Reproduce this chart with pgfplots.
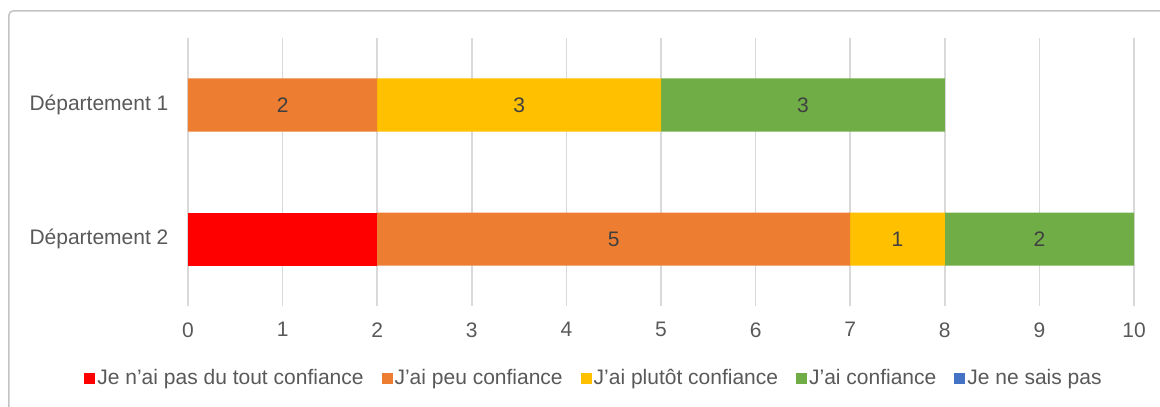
\documentclass[border=0pt]{standalone}
\usepackage{pgfplots}
\pgfplotsset{compat=1.18}
\usepackage{fontspec}
\setmainfont{Liberation Sans}

\definecolor{cRed}{HTML}{FF0000}
\definecolor{cOrange}{HTML}{ED7D31}
\definecolor{cYellow}{HTML}{FFC000}
\definecolor{cGreen}{HTML}{70AD47}
\definecolor{cBlue}{HTML}{4472C4}
\definecolor{txt}{HTML}{595959}
\definecolor{lbl}{HTML}{404040}
\definecolor{gridc}{HTML}{D9D9D9}

\begin{document}
\begin{tikzpicture}
\path[use as bounding box] (-188pt,-101pt) rectangle (972pt,306pt);
\draw[color=gridc!90!black, line width=1.5pt, rounded corners=4pt]
  (-179pt,-101pt) -- (-179pt,295pt) -- (972pt,295pt);
\begin{axis}[
    xbar stacked,
    scale only axis,
    width=946pt, height=268pt,
    at={(0,0)}, anchor=south west,
    xmin=0, xmax=10,
    ymin=-0.5, ymax=1.5,
    bar width=53pt,
    xtick={0,1,...,10},
    ytick={0,1},
    yticklabels={Département 2, Département 1},
    xmajorgrids,
    major grid style={color=gridc, line width=1.6pt},
    axis line style={draw=none},
    major tick length=0pt,
    font=\fontsize{21}{25}\selectfont,
    tick label style={color=txt},
    /pgf/number format/assume math mode=true,
    xticklabel style={yshift=-13pt},
    yticklabel style={xshift=-16pt},
    nodes near coords style={color=lbl, anchor=center, font=\fontsize{21}{25}\selectfont},
    legend columns=5,
    legend style={draw=none, at={(axis description cs:0.4292,-0.2687)}, anchor=center,
        font=\fontsize{21}{25}\selectfont, text=txt,
        /tikz/every even column/.append style={column sep=16pt}},
    legend image code/.code={\fill[#1] (-3pt,-5.5pt) rectangle (8pt,5.5pt);},
]
\addplot[fill=cRed, draw=none] coordinates {(0,1) (2,0)};
\addplot[fill=cOrange, draw=none, nodes near coords] coordinates {(2,1) (5,0)};
\addplot[fill=cYellow, draw=none, nodes near coords] coordinates {(3,1) (1,0)};
\addplot[fill=cGreen, draw=none, nodes near coords] coordinates {(3,1) (2,0)};
\addplot[fill=cBlue, draw=none] coordinates {(0,1) (0,0)};
\legend{Je n’ai pas du tout confiance, J’ai peu confiance, J’ai plutôt confiance, J’ai confiance, Je ne sais pas}
\end{axis}
\end{tikzpicture}
\end{document}
